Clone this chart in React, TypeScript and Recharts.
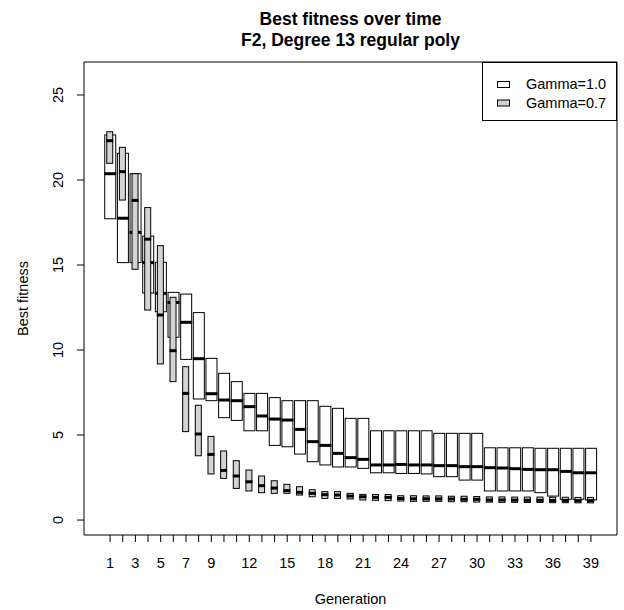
import { Bar, ComposedChart, Legend, ReferenceArea, XAxis, YAxis } from "recharts";

const generations = [
  1, 2, 3, 4, 5, 6, 7, 8, 9, 10, 11, 12, 13, 14, 15, 16, 17, 18, 19, 20,
  21, 22, 23, 24, 25, 26, 27, 28, 29, 30, 31, 32, 33, 34, 35, 36, 37, 38, 39,
];

// Gamma=1.0 (white boxes)
const g10Upper = [
  22.65, 21.57, 20.37, 16.7, 15.16, 13.39, 13.29, 12.2, 9.51, 8.63, 8.14, 7.45,
  7.45, 7.2, 7.02, 7.02, 7.02, 6.69, 6.57, 5.98, 5.98, 5.25, 5.25, 5.25, 5.25,
  5.25, 5.1, 5.1, 5.1, 5.1, 4.25, 4.25, 4.25, 4.25, 4.22, 4.22, 4.22, 4.22, 4.22,
];
const g10Median = [
  20.37, 17.75, 16.92, 15.14, 13.33, 12.8, 11.63, 9.49, 7.43, 7.06, 7.02, 6.67,
  6.12, 5.94, 5.88, 5.33, 4.61, 4.39, 3.92, 3.67, 3.57, 3.24, 3.24, 3.27, 3.24,
  3.24, 3.2, 3.2, 3.14, 3.14, 3.08, 3.06, 3.02, 2.98, 2.96, 2.96, 2.86, 2.78, 2.78,
];
const g10Lower = [
  17.72, 15.14, 15.14, 13.35, 12.25, 10.75, 9.45, 7.12, 7.02, 6.02, 5.86, 5.25,
  5.25, 4.39, 4.31, 3.88, 3.43, 3.24, 3.12, 3.12, 3.04, 2.78, 2.78, 2.74, 2.74,
  2.71, 2.55, 2.55, 2.35, 2.35, 1.71, 1.71, 1.71, 1.71, 1.61, 1.41, 1.22, 1.22, 1.18,
];

// Gamma=0.7 (grey boxes)
const g07Upper = [
  22.84, 21.92, 20.37, 18.38, 16.14, 13.1, 9.02, 6.75, 4.92, 4.06, 3.49, 2.94,
  2.59, 2.31, 2.1, 1.96, 1.78, 1.67, 1.67, 1.57, 1.51, 1.5, 1.5, 1.43, 1.43,
  1.42, 1.42, 1.4, 1.4, 1.38, 1.36, 1.36, 1.35, 1.35, 1.35, 1.34, 1.34, 1.33, 1.33,
];
const g07Median = [
  22.31, 20.49, 18.8, 16.52, 12.06, 9.96, 7.45, 5.06, 3.86, 2.92, 2.59, 2.25,
  2.02, 1.88, 1.73, 1.63, 1.57, 1.49, 1.47, 1.41, 1.37, 1.33, 1.33, 1.27, 1.25,
  1.25, 1.24, 1.24, 1.22, 1.22, 1.18, 1.18, 1.17, 1.16, 1.16, 1.15, 1.15, 1.14, 1.14,
];
const g07Lower = [
  20.98, 18.82, 14.75, 12.35, 9.18, 8.14, 5.2, 3.78, 2.71, 2.45, 1.86, 1.71,
  1.61, 1.57, 1.57, 1.47, 1.37, 1.27, 1.27, 1.24, 1.18, 1.16, 1.14, 1.12, 1.1,
  1.1, 1.1, 1.08, 1.08, 1.06, 1.05, 1.04, 1.04, 1.03, 1.03, 1.02, 1.02, 1.01, 1.01,
];

const seriesNames = ["Gamma=1.0", "Gamma=0.7"];
const yTicks = [0, 5, 10, 15, 20, 25];
const xTickLabels = [1, 3, 5, 7, 9, 12, 15, 18, 21, 24, 27, 30, 33, 36, 39];

const data = generations.map((gen, i) => ({
  gen,
  w: [g10Lower[i], g10Upper[i]],
  wMed: g10Median[i],
  g: [g07Lower[i], g07Upper[i]],
  gMed: g07Median[i],
}));

const FONT = "'Liberation Sans', Arial, Helvetica, sans-serif";

// box with a thick median line, median placed using the bar's own scaled geometry
function boxShape(rangeKey: string, medKey: string) {
  return (props: any) => {
    const { x, y, width, height, payload, fill } = props;
    const [lo, hi] = payload[rangeKey];
    const top = Math.min(y, y + height);
    const h = Math.abs(height);
    const my = top + (h * (hi - payload[medKey])) / (hi - lo);
    return (
      <g>
        <rect x={x} y={top} width={width} height={h} fill={fill} stroke="#000" strokeWidth={1} />
        <line x1={x - 0.5} x2={x + width + 0.5} y1={my} y2={my} stroke="#000" strokeWidth={3} />
      </g>
    );
  };
}

const XTick = (props: any) => {
  const { x, y, payload } = props;
  if (!xTickLabels.includes(payload.value)) return null;
  return (
    <text x={x} y={y + 24} textAnchor="middle" fontSize={14.5} fontFamily={FONT} fill="#000">
      {payload.value}
    </text>
  );
};

const YTick = (props: any) => {
  const { x, y, payload } = props;
  return (
    <text
      transform={`translate(${x - 12},${y}) rotate(-90)`}
      textAnchor="middle"
      fontSize={14.5}
      fontFamily={FONT}
      fill="#000"
    >
      {payload.value}
    </text>
  );
};

const renderLegend = (props: any) => {
  const items = [...(props.payload || [])].sort(
    (a: any, b: any) => seriesNames.indexOf(a.value) - seriesNames.indexOf(b.value)
  );
  return (
    <svg width={135} height={59} style={{ display: "block" }}>
      <rect x={0.5} y={0.5} width={134} height={58} fill="#fff" stroke="#000" />
      {items.map((e: any, i: number) => (
        <g key={e.value}>
          <rect x={15.5} y={19.5 + i * 18.5} width={12} height={6} fill={e.color} stroke="#000" />
          <text x={44} y={27 + i * 18.5} fontSize={14.5} fontFamily={FONT} fill="#000">
            {e.value}
          </text>
        </g>
      ))}
    </svg>
  );
};

export default function App() {
  return (
    <div style={{ position: "absolute", left: 0, top: 0 }}>
      <ComposedChart
        width={624}
        height={610}
        data={data}
        margin={{ top: 62, right: 7, bottom: 25, left: 24 }}
      >
        <XAxis
          xAxisId="a"
          dataKey="gen"
          type="number"
          domain={[-1.06, 41.06]}
          allowDataOverflow
          ticks={generations}
          interval={0}
          tickSize={7}
          axisLine={false}
          tickLine={{ stroke: "#000" }}
          tick={<XTick />}
          height={50}
        />
        <XAxis
          xAxisId="b"
          dataKey="gen"
          type="number"
          domain={[-1.06, 41.06]}
          allowDataOverflow
          hide
        />
        <YAxis
          type="number"
          domain={[-0.88, 26.94]}
          allowDataOverflow
          ticks={yTicks}
          interval={0}
          tickSize={7}
          axisLine={false}
          tickLine={{ stroke: "#000" }}
          tick={<YTick />}
          width={60}
        />
        <Bar
          xAxisId="a"
          dataKey="w"
          name={seriesNames[0]}
          fill="#ffffff"
          barSize={11}
          shape={boxShape("w", "wMed")}
          isAnimationActive={false}
        />
        <Bar
          xAxisId="b"
          dataKey="g"
          name={seriesNames[1]}
          fill="#d3d3d3"
          barSize={6}
          shape={boxShape("g", "gMed")}
          isAnimationActive={false}
        />
        <ReferenceArea
          xAxisId="a"
          x1={-1.06}
          x2={41.06}
          y1={-0.88}
          y2={26.94}
          fill="none"
          stroke="#000"
          strokeWidth={1}
          ifOverflow="visible"
        />
        <Legend
          layout="vertical"
          verticalAlign="middle"
          align="center"
          content={renderLegend}
          wrapperStyle={{ left: 482, top: 62, width: 135, height: 59 }}
        />
        <text x={350.5} y={25} textAnchor="middle" fontSize={17.5} fontWeight="bold" fontFamily={FONT}>
          Best fitness over time
        </text>
        <text x={350.5} y={46} textAnchor="middle" fontSize={17.5} fontWeight="bold" fontFamily={FONT}>
          F2, Degree 13 regular poly
        </text>
        <text x={350.5} y={604} textAnchor="middle" fontSize={14.5} fontFamily={FONT}>
          Generation
        </text>
        <text
          transform="translate(28,298.5) rotate(-90)"
          textAnchor="middle"
          fontSize={14.5}
          fontFamily={FONT}
        >
          Best fitness
        </text>
      </ComposedChart>
    </div>
  );
}
